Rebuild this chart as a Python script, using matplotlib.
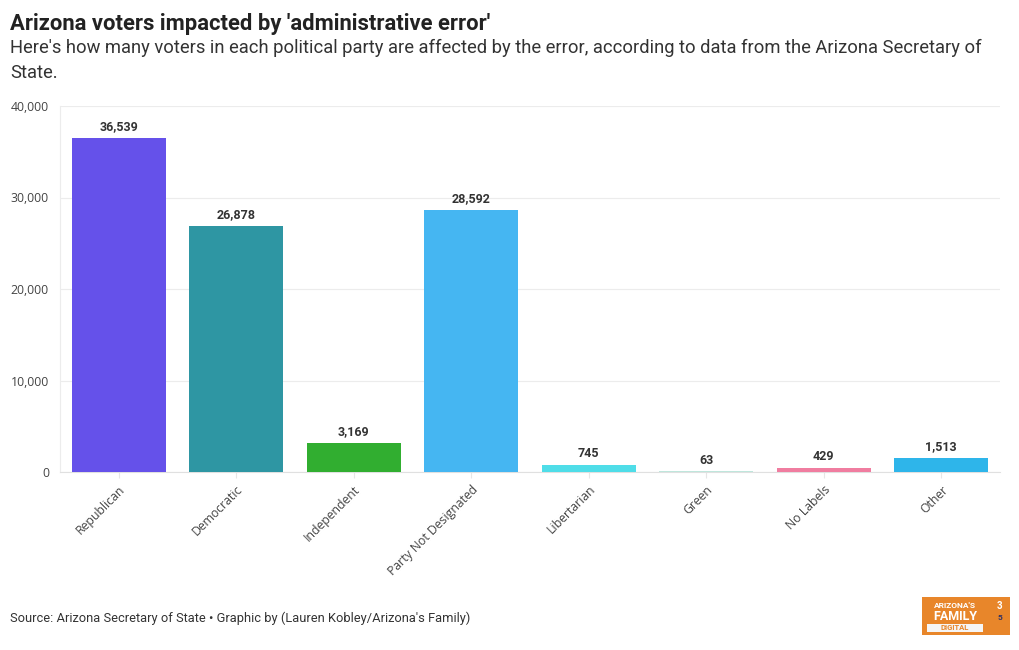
import matplotlib
matplotlib.use("Agg")
import matplotlib.pyplot as plt
from matplotlib.patches import Rectangle

categories = ["Republican", "Democratic", "Independent", "Party Not Designated",
              "Libertarian", "Green", "No Labels", "Other"]
values = [36539, 26878, 3169, 28592, 745, 63, 429, 1513]
colors = ["#6551EA", "#2E96A3", "#31AE30", "#45B6F2", "#4FDDE8", "#BFE6DC", "#F07DA0", "#2EB5EA"]
yticks = [0, 10000, 20000, 30000, 40000]

plt.rcParams['font.family'] = ['Open Sans', 'DejaVu Sans']

fig = plt.figure(figsize=(10.2, 6.5), dpi=100)
W, H = 1020, 650
x0, x1 = 60, 1000
ytop, ybot = 106, 472
ax = fig.add_axes([x0 / W, 1 - ybot / H, (x1 - x0) / W, (ybot - ytop) / H])

narrow = ["Roboto", "DejaVu Sans"]

xs = list(range(len(categories)))
ax.bar(xs, values, width=0.8, color=colors, edgecolor="none", zorder=3)
for x, v in zip(xs, values):
    ax.annotate(f"{v:,}", (x, v), xytext=(0, 3.5), textcoords="offset points",
                ha="center", va="bottom", fontsize=9, fontweight="bold", color="#333333",
                family=narrow)

ax.set_xlim(-0.5, len(categories) - 0.5)
ax.set_ylim(0, 40000)
ax.set_yticks(yticks)
ax.set_yticklabels([f"{t:,}" for t in yticks], fontsize=8.8, color="#444444")
ax.set_xticks(xs)
ax.set_xticklabels(categories, rotation=45, ha="right", rotation_mode="anchor",
                   fontsize=8.8, color="#444444")
ax.tick_params(axis="y", length=0, pad=8)
ax.tick_params(axis="x", length=4, color="#e6e6e6", pad=4)
ax.grid(axis="y", color="#ececec", linewidth=0.8, zorder=0)
for s in ["top", "right"]:
    ax.spines[s].set_visible(False)
ax.spines["left"].set_color("#ececec")
ax.spines["bottom"].set_color("#e0e0e0")

fig.text(10 / W, 1 - 24 / H, "Arizona voters impacted by 'administrative error'",
         fontsize=15.8, fontweight="bold", color="#222222", va="center", family=narrow)
fig.text(10 / W, 1 - 48 / H,
         "Here's how many voters in each political party are affected by the error, according to data from the Arizona Secretary of",
         fontsize=13.2, color="#333333", va="center", family=narrow)
fig.text(10 / W, 1 - 73 / H, "State.", fontsize=13.2, color="#333333", va="center", family=narrow)
fig.text(10 / W, 1 - 618 / H,
         "Source: Arizona Secretary of State \u2022 Graphic by (Lauren Kobley/Arizona's Family)",
         fontsize=9.3, color="#333333", va="center", family=narrow)

# logo
lx, ly, lw, lh = 922, 597, 88, 38
fig.patches.append(Rectangle((lx / W, 1 - (ly + lh) / H), lw / W, lh / H,
                             transform=fig.transFigure, facecolor="#E8862A", edgecolor="none"))
fig.text((lx + 33) / W, 1 - (ly + 9) / H, "ARIZONA'S", fontsize=6, color="white",
         fontweight="bold", ha="center", va="center", family=narrow)
fig.text((lx + 33) / W, 1 - (ly + 19) / H, "FAMILY", fontsize=9, color="white",
         fontweight="bold", ha="center", va="center", family=narrow)
fig.patches.append(Rectangle(((lx + 5) / W, 1 - (ly + 35) / H), 56 / W, 8 / H,
                             transform=fig.transFigure, facecolor="#F5F5F5", edgecolor="none"))
fig.text((lx + 33) / W, 1 - (ly + 31) / H, "DIGITAL", fontsize=5.5, color="#E8862A",
         fontweight="bold", ha="center", va="center", family=narrow)
fig.text((lx + 78) / W, 1 - (ly + 9) / H, "3", fontsize=7, color="white",
         fontweight="bold", ha="center", va="center", family=narrow)
fig.text((lx + 78) / W, 1 - (ly + 20) / H, "5", fontsize=6, color="#333366",
         fontweight="bold", ha="center", va="center", family=narrow)

fig.savefig("out.png", dpi=100, facecolor="white")
